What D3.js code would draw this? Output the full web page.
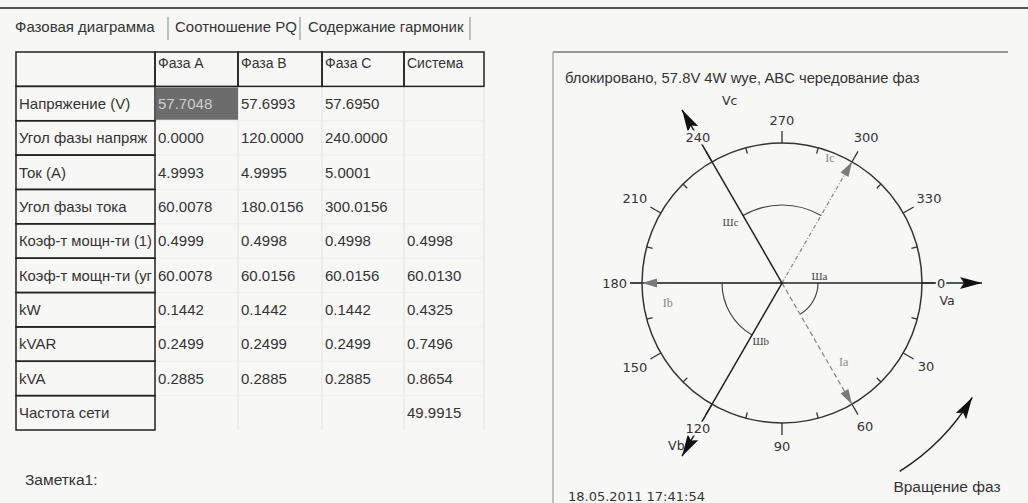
<!DOCTYPE html>
<html>
<head>
<meta charset="utf-8">
<script src="https://cdn.jsdelivr.net/npm/d3@7"></script>
<style>
  body { margin: 0; background: #f7f7f6; }
  svg { display: block; }
  text { font-family: "Liberation Sans", Arial, sans-serif; fill: #333; }
</style>
</head>
<body>
<svg id="chart" width="1028" height="503"></svg>
<script>
// tabs
const tabs = ["Фазовая диаграмма", "Соотношение PQ", "Содержание гармоник"];

// table (row captions as shown, cut by the column width)
const columns = ["", "Фаза А", "Фаза В", "Фаза С", "Система"];
const rowLabels = ["Напряжение (V)", "Угол фазы напряж", "Ток (А)", "Угол фазы тока",
  "Коэф-т мощн-ти (1)", "Коэф-т мощн-ти (уг", "kW", "kVAR", "kVA", "Частота сети"];
const phaseA = [57.7048, 0.0000, 4.9993, 60.0078, 0.4999, 60.0078, 0.1442, 0.2499, 0.2885, null];
const phaseB = [57.6993, 120.0000, 4.9995, 180.0156, 0.4998, 60.0156, 0.1442, 0.2499, 0.2885, null];
const phaseC = [57.6950, 240.0000, 5.0001, 300.0156, 0.4998, 60.0156, 0.1442, 0.2499, 0.2885, null];
const system = [null, null, null, null, 0.4998, 60.0130, 0.4325, 0.7496, 0.8654, 49.9915];

// phasor diagram
const phases = ["a", "b", "c"];
const voltageMag = [phaseA[0], phaseB[0], phaseC[0]];
const voltageAng = [phaseA[1], phaseB[1], phaseC[1]];
const currentMag = [phaseA[2], phaseB[2], phaseC[2]];
const currentAng = [phaseA[3], phaseB[3], phaseC[3]];
const dialTicks = d3.range(0, 360, 15);

const title = "блокировано, 57.8V 4W wye, ABC чередование фаз";
const timestamp = "18.05.2011 17:41:54";
const rotationLabel = "Вращение фаз";
const note = "Заметка1:";

const svg = d3.select("#chart");
const fmt = d3.format(".4f");

// ---- top bar and tabs
svg.append("line").attr("x1", 0).attr("x2", 1028).attr("y1", 8).attr("y2", 8)
  .attr("stroke", "#555").attr("stroke-width", 2);

const tabX = [15, 175, 308];
const sepX = [168, 300, 470];
tabs.forEach((t, i) => {
  svg.append("text").attr("x", tabX[i]).attr("y", 32).attr("font-size", 15).text(t);
  svg.append("line").attr("x1", sepX[i]).attr("x2", sepX[i]).attr("y1", 17).attr("y2", 40)
    .attr("stroke", "#999").attr("stroke-width", 1.2);
});

// ---- table
const colEdges = [16, 155, 238, 322, 404, 484];
const y = d3.scaleLinear().domain([0, rowLabels.length + 1]).range([52, 430]);
const table = svg.append("g");
const series = [phaseA, phaseB, phaseC, system];

// faint grid in data area
colEdges.slice(2).forEach(x => {
  table.append("line").attr("x1", x).attr("x2", x).attr("y1", y(1)).attr("y2", y(rowLabels.length + 1))
    .attr("stroke", "#e3e3e3");
});
d3.range(2, rowLabels.length + 1).forEach(r => {
  table.append("line").attr("x1", colEdges[1]).attr("x2", colEdges[5]).attr("y1", y(r)).attr("y2", y(r))
    .attr("stroke", "#eeeeee");
});

// header
columns.forEach((c, i) => {
  table.append("rect").attr("x", colEdges[i]).attr("y", y(0))
    .attr("width", colEdges[i + 1] - colEdges[i]).attr("height", y(1) - y(0))
    .attr("fill", "none").attr("stroke", "#222").attr("stroke-width", 1.5);
  table.append("text").attr("x", colEdges[i] + 3).attr("y", y(0) + 16)
    .attr("font-size", 14).text(c);
});

// first column label cells
rowLabels.forEach((lab, r) => {
  table.append("rect").attr("x", colEdges[0]).attr("y", y(r + 1))
    .attr("width", colEdges[1] - colEdges[0]).attr("height", y(r + 2) - y(r + 1))
    .attr("fill", "none").attr("stroke", "#222").attr("stroke-width", 1.5);
  const t = table.append("text").attr("x", colEdges[0] + 3).attr("y", (y(r + 1) + y(r + 2)) / 2)
    .attr("dy", "0.35em").attr("font-size", 15).text(lab);
  const maxW = colEdges[1] - colEdges[0] - 6;
  if (t.node().getComputedTextLength() > maxW) t.attr("textLength", maxW).attr("lengthAdjust", "spacingAndGlyphs");
});

// selected cell
table.append("rect").attr("x", colEdges[1] + 1).attr("y", y(1) + 1)
  .attr("width", colEdges[2] - colEdges[1] - 1).attr("height", y(2) - y(1) - 2)
  .attr("fill", "#6c6c6c");

series.forEach((vals, c) => {
  vals.forEach((v, r) => {
    if (v === null) return;
    table.append("text").attr("x", colEdges[c + 1] + 3).attr("y", (y(r + 1) + y(r + 2)) / 2)
      .attr("dy", "0.35em").attr("font-size", 15)
      .style("fill", (c === 0 && r === 0) ? "#cfcfcf" : "#333")
      .text(fmt(v));
  });
});

svg.append("text").attr("x", 25).attr("y", 485).attr("font-size", 15.5).text(note);

// ---- right panel
svg.append("line").attr("x1", 553).attr("x2", 1008).attr("y1", 52).attr("y2", 52)
  .attr("stroke", "#777").attr("stroke-width", 1.5);
svg.append("line").attr("x1", 553).attr("x2", 553).attr("y1", 52).attr("y2", 503)
  .attr("stroke", "#999").attr("stroke-width", 1.2);
svg.append("text").attr("x", 565).attr("y", 83).attr("font-size", 14.8).text(title);
svg.append("text").attr("x", 568).attr("y", 501).attr("font-size", 13)
  .style("font-family", "DejaVu Sans").text(timestamp);

const cx = 782, cy = 283, R = 140;
const ang = d3.scaleLinear().domain([0, 360]).range([0, 2 * Math.PI]);
const vLen = d3.scaleLinear().domain([0, d3.max(voltageMag)]).range([0, 200]);
const iLen = d3.scaleLinear().domain([0, d3.max(currentMag)]).range([0, R]);
const pt = (deg, r) => [cx + r * Math.cos(ang(deg)), cy + r * Math.sin(ang(deg))];

const defs = svg.append("defs");
defs.append("marker").attr("id", "vArrow").attr("markerUnits", "userSpaceOnUse")
  .attr("viewBox", "-24 -7 26 14").attr("refX", 0).attr("refY", 0)
  .attr("markerWidth", 26).attr("markerHeight", 14).attr("orient", "auto")
  .append("path").attr("d", "M0,0L-22,-6L-18,0L-22,6Z").attr("fill", "#111");
defs.append("marker").attr("id", "iArrow").attr("markerUnits", "userSpaceOnUse")
  .attr("viewBox", "-16 -6 18 12").attr("refX", 0).attr("refY", 0)
  .attr("markerWidth", 18).attr("markerHeight", 12).attr("orient", "auto")
  .append("path").attr("d", "M0,0L-15,-4.5L-15,4.5Z").attr("fill", "#7a7a7a");

const dial = svg.append("g");
dial.append("circle").attr("cx", cx).attr("cy", cy).attr("r", R)
  .attr("fill", "none").attr("stroke", "#333").attr("stroke-width", 1.5);

dialTicks.forEach(d => {
  const major = d % 30 === 0;
  const [x1, y1] = pt(d, major ? R : R - 6);
  const [x2, y2] = pt(d, major ? R + 12 : R);
  dial.append("line").attr("x1", x1).attr("y1", y1).attr("x2", x2).attr("y2", y2)
    .attr("stroke", "#333").attr("stroke-width", 1.3);
});

// horizontal reference across the dial
dial.append("line").attr("x1", pt(180, R + 12)[0]).attr("x2", cx).attr("y1", cy).attr("y2", cy)
  .attr("stroke", "#333").attr("stroke-width", 1.4);

// angle arcs between voltage and current
const arcR = [36, 60, 78];
phases.forEach((p, i) => {
  const a0 = ang(voltageAng[i]), a1 = ang(currentAng[i]);
  const path = d3.path();
  path.moveTo(cx + arcR[i] * Math.cos(a0), cy + arcR[i] * Math.sin(a0));
  path.arc(cx, cy, arcR[i], a0, a1, a1 < a0);
  dial.append("path").attr("d", path.toString()).attr("fill", "none")
    .attr("stroke", "#444").attr("stroke-width", 1.2);
  const [lx, ly] = pt(voltageAng[i] - 10, arcR[i] + 2);
  dial.append("text").attr("x", lx).attr("y", ly).attr("dy", "0.35em").attr("text-anchor", "middle")
    .attr("font-size", 11).style("font-family", "Liberation Serif").style("fill", "#444")
    .text("Ш" + p);
});

// current vectors
const iDash = ["5,3", null, "4,2,1,2"];
const iLab = [[100, 52], [116, 170], [134, 291]];
phases.forEach((p, i) => {
  const [x2, y2] = pt(currentAng[i], iLen(currentMag[i]));
  dial.append("line").attr("x1", cx).attr("y1", cy).attr("x2", x2).attr("y2", y2)
    .attr("stroke", i === 1 ? "#444" : "#8a8a8a").attr("stroke-width", 1.3)
    .attr("stroke-dasharray", iDash[i]).attr("marker-end", "url(#iArrow)");
  const [lx, ly] = pt(iLab[i][1], iLab[i][0]);
  dial.append("text").attr("x", lx).attr("y", ly).attr("dy", "0.35em").attr("text-anchor", "middle")
    .attr("font-size", 12).style("font-family", "Liberation Serif").style("fill", "#888")
    .text("I" + p);
});

// voltage vectors
const vLab = [[166, 6], [194, 123], [190, 254]];
phases.forEach((p, i) => {
  const [x2, y2] = pt(voltageAng[i], vLen(voltageMag[i]));
  dial.append("line").attr("x1", cx).attr("y1", cy).attr("x2", x2).attr("y2", y2)
    .attr("stroke", "#222").attr("stroke-width", 1.5).attr("marker-end", "url(#vArrow)");
  const [lx, ly] = pt(vLab[i][1], vLab[i][0]);
  dial.append("text").attr("x", lx).attr("y", ly).attr("dy", "0.35em").attr("text-anchor", "middle")
    .attr("font-size", 12.5).style("font-family", "DejaVu Sans").text("V" + p);
});

// dial labels with background patches
dialTicks.filter(d => d % 30 === 0).forEach(d => {
  const g = dial.append("g");
  const t = g.append("text").attr("font-size", 13).style("font-family", "DejaVu Sans")
    .attr("text-anchor", "middle").attr("dy", "0.35em").text(d);
  const w = t.node().getComputedTextLength();
  const rr = 153 + Math.abs(Math.cos(ang(d))) * w / 2 + Math.abs(Math.sin(ang(d))) * 8 + 2;
  const [lx, ly] = pt(d, rr);
  g.insert("rect", "text").attr("x", lx - w / 2 - 1).attr("y", ly - 7).attr("width", w + 2).attr("height", 14)
    .attr("fill", "#f7f7f6");
  t.attr("x", lx).attr("y", ly);
});

// rotation direction
const rot = d3.path();
rot.arc(cx, cy, 222, ang(58), ang(31), true);
svg.append("path").attr("d", rot.toString()).attr("fill", "none")
  .attr("stroke", "#222").attr("stroke-width", 1.5).attr("marker-end", "url(#vArrow)");
svg.append("text").attr("x", 947).attr("y", 492).attr("text-anchor", "middle")
  .attr("font-size", 15.5).text(rotationLabel);
</script>
</body>
</html>
